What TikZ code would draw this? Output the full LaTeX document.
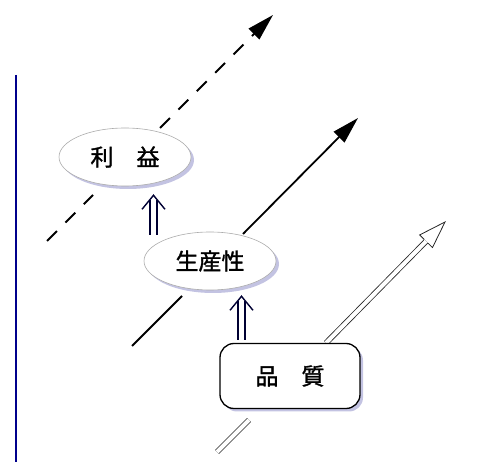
\documentclass[tikz,border=0pt]{standalone}
\usepackage{fontspec}
\newfontfamily\jp[FakeBold=1.3]{Noto Sans CJK JP}
\usetikzlibrary{arrows.meta,shadows,calc,shapes.geometric}
\begin{document}
\begin{tikzpicture}[x=1pt,y=-1pt,
  shad/.style={drop shadow={shadow xshift=3pt, shadow yshift=-3pt, fill=blue!35!gray, opacity=0.35}},
  oval/.style={ellipse, draw=gray!65, line width=0.6pt, fill=white, minimum width=132pt, minimum height=58pt, inner sep=0pt, font=\jp\fontsize{23}{23}\selectfont, shad},
  boxq/.style={rectangle, rounded corners=14pt, draw=black, line width=1.3pt, fill=white, minimum width=140pt, minimum height=65pt, inner sep=0pt, font=\jp\fontsize{23}{23}\selectfont, shad},
  dashline/.style={line width=1.8pt, dash pattern=on 14pt off 12pt},
  solidline/.style={line width=1.8pt},
  dbl/.style={draw=gray!30!black, line width=0.8pt, double=white, double distance=4pt},
  impline/.style={draw=black!80!blue, line width=1.4pt, line join=miter},
  blueline/.style={draw=blue!55!black, line width=1.1pt}
]
\useasboundingbox (0,0) rectangle (483,462);
% free coordinates of the three trend lines
\coordinate (dA) at (47,241); \coordinate (dA2) at (93,195);
\coordinate (dB) at (160,128); \coordinate (dT) at (273,15);
\coordinate (sA) at (132,346); \coordinate (sA2) at (182,296);
\coordinate (sB) at (243,234); \coordinate (sT) at (358,118);
\coordinate (wA) at (217,452); \coordinate (wA2) at (249,420);
\coordinate (wB) at (326,343); \coordinate (wT) at (445,222);
\coordinate (v1) at (16,75); \coordinate (v2) at (16,462);

\draw[blueline] (v1) -- (v2);

% dashed trend
\draw[dashline] (dA) -- (dA2);
\draw[dashline, -{Triangle[length=27pt,width=15pt]}] (dB) -- (dT);
% solid trend
\draw[solidline] (sA) -- (sA2);
\draw[solidline, -{Triangle[length=27pt,width=15pt]}] (sB) -- (sT);
% hollow double trend
\coordinate (wM) at ($(wT)!27pt!(wB)$);
\coordinate (wM1) at ($(wM)!2.8pt!90:(wT)$);
\coordinate (wM2) at ($(wM)!2.8pt!-90:(wT)$);
\coordinate (wC1) at ($(wM)!9pt!90:(wT)$);
\coordinate (wC2) at ($(wM)!9pt!-90:(wT)$);
\draw[dbl] (wA) -- (wA2);
\draw[dbl] (wB) -- (wM);
\draw[draw=gray!30!black, line width=0.8pt, line join=miter] (wM1) -- (wC1) -- (wT) -- (wC2) -- (wM2);

% nodes
\node[oval] (rieki) at (125,157) {利　益};
\node[oval] (seisan) at (210,261) {生産性};
\node[boxq] (hinshitsu) at (290,376) {品　質};

% implication arrows (double shaft with open chevron)
\coordinate (i1b) at ($(seisan.north)+(-56.5,3)$);
\coordinate (i1t) at ($(rieki.south)+(28.5,9)$);
\draw[impline] ($(i1b)+(-3.6,0)$) -- ($(i1t)+(-3.6,4.4)$);
\draw[impline] ($(i1b)+(3.6,0)$) -- ($(i1t)+(3.6,4.4)$);
\draw[impline] ($(i1t)+(-11.5,14)$) -- (i1t) -- ($(i1t)+(11.5,14)$);
\coordinate (i2b) at ($(hinshitsu.north)+(-48.5,-3)$);
\coordinate (i2t) at ($(seisan.south)+(31.5,6)$);
\draw[impline] ($(i2b)+(-3.6,0)$) -- ($(i2t)+(-3.6,4.4)$);
\draw[impline] ($(i2b)+(3.6,0)$) -- ($(i2t)+(3.6,4.4)$);
\draw[impline] ($(i2t)+(-11.5,14)$) -- (i2t) -- ($(i2t)+(11.5,14)$);
\end{tikzpicture}
\end{document}
